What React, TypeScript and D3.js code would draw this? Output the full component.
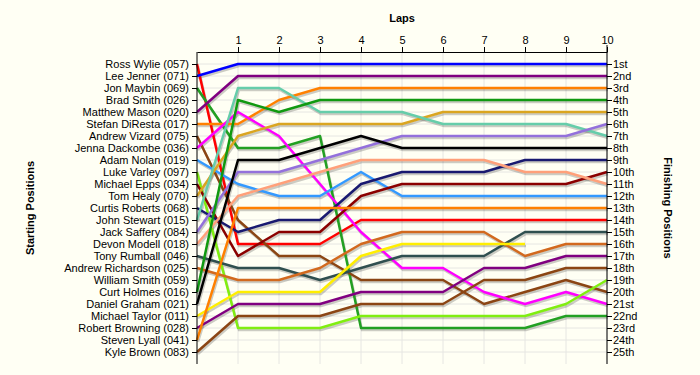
import React, { useEffect, useRef } from 'react';
import * as d3 from 'd3';

// laps and labels
const laps = [0, 1, 2, 3, 4, 5, 6, 7, 8, 9, 10];
const startLabels = [
  'Ross Wylie (057)', 'Lee Jenner (071)', 'Jon Maybin (069)', 'Brad Smith (026)',
  'Matthew Mason (020)', 'Stefan DiResta (017)', 'Andrew Vizard (075)', 'Jenna Dackombe (036)',
  'Adam Nolan (019)', 'Luke Varley (097)', 'Michael Epps (034)', 'Tom Healy (070)',
  'Curtis Roberts (068)', 'John Stewart (015)', 'Jack Saffery (084)', 'Devon Modell (018)',
  'Tony Rumball (046)', 'Andrew Richardson (025)', 'William Smith (059)', 'Curt Holmes (016)',
  'Daniel Graham (021)', 'Michael Taylor (011)', 'Robert Browning (028)', 'Steven Lyall (041)',
  'Kyle Brown (083)',
];
const finishLabels = [
  '1st', '2nd', '3rd', '4th', '5th', '6th', '7th', '8th', '9th', '10th', '11th', '12th', '13th',
  '14th', '15th', '16th', '17th', '18th', '19th', '20th', '21st', '22nd', '23rd', '24th', '25th',
];

// position of each driver at lap 0..10
const rossWylie = [1, 16, 16, 16, 14, 14, 14, 14, 14, 14, 14];
const leeJenner = [2, 1, 1, 1, 1, 1, 1, 1, 1, 1, 1];
const jonMaybin = [3, 8, 8, 7, 23, 23, 23, 23, 23, 22, 22];
const matthewMason = [5, 2, 2, 2, 2, 2, 2, 2, 2, 2, 2];
const stefanDiResta = [6, 6, 4, 3, 3, 3, 3, 3, 3, 3, 3];
const andrewVizard = [7, 14, 17, 17, 19, 19, 19, 21, 20, 19, 20];
const jennaDackombe = [8, 5, 7, 11, 15, 18, 18, 20, 21, 20, 21];
const adamNolan = [9, 11, 12, 12, 10, 12, 12, 12, 12, 12, 12];
const lukeVarley = [10, 23, 23, 23, 22, 22, 22, 22, 22, 21, 19];
const michaelEpps = [11, 17, 15, 15, 12, 11, 11, 11, 11, 11, 10];
const tomHealy = [12, 7, 6, 6, 6, 6, 5, 5, 5, 5, 5];
const curtisRoberts = [13, 15, 14, 14, 11, 10, 10, 10, 9, 9, 9];
const johnStewart = [14, 3, 3, 5, 5, 5, 6, 6, 6, 6, 7];
const jackSaffery = [15, 10, 10, 9, 8, 7, 7, 7, 7, 7, 6];
const devonModell = [16, 12, 11, 10, 9, 9, 9, 9, 10, 10, 11];
const tonyRumball = [17, 18, 18, 19, 18, 17, 17, 17, 15, 15, 15];
const andrewRichardson = [18, 19, 19, 18, 16, 15, 15, 15, 17, 16, 16];
const curtHolmes = [20, 4, 5, 4, 4, 4, 4, 4, 4, 4, 4];
const danielGraham = [21, 9, 9, 8, 7, 8, 8, 8, 8, 8, 8];
const michaelTaylor = [22, 20, 20, 20, 17, 16, 16, 16, 16];
const robertBrowning = [23, 21, 21, 21, 20, 20, 20, 18, 18, 17, 17];
const stevenLyall = [24, 13, 13, 13, 13, 13, 13, 13, 13, 13, 13];
const kyleBrown = [25, 22, 22, 22, 21, 21, 21, 19, 19, 18, 18];

const series = [
  { pos: rossWylie, color: '#ff0000' },
  { pos: leeJenner, color: '#0000ff' },
  { pos: jonMaybin, color: '#22a022' },
  { pos: matthewMason, color: '#800080' },
  { pos: stefanDiResta, color: '#ff8000' },
  { pos: andrewVizard, color: '#8b4513' },
  { pos: jennaDackombe, color: '#ff00ff' },
  { pos: adamNolan, color: '#3399ff' },
  { pos: lukeVarley, color: '#80ee10' },
  { pos: michaelEpps, color: '#8b0000' },
  { pos: tomHealy, color: '#daa520' },
  { pos: curtisRoberts, color: '#191970' },
  { pos: johnStewart, color: '#66cdaa' },
  { pos: jackSaffery, color: '#9370db' },
  { pos: devonModell, color: '#ffa07a' },
  { pos: tonyRumball, color: '#2f4f4f' },
  { pos: andrewRichardson, color: '#d2691e' },
  { pos: curtHolmes, color: '#109910' },
  { pos: danielGraham, color: '#000000' },
  { pos: michaelTaylor, color: '#ffee00' },
  { pos: robertBrowning, color: '#800080' },
  { pos: stevenLyall, color: '#ff8000' },
  { pos: kyleBrown, color: '#8b4513' },
];

const W = 700;
const H = 375;
const FONT = 'Liberation Sans, Arial, sans-serif';

export default function App() {
  const svgRef = useRef<SVGSVGElement>(null);

  useEffect(() => {
    const svg = d3.select(svgRef.current);
    svg.selectAll('*').remove();

    const x = d3.scaleLinear().domain([0, 10]).range([197, 607]);
    const y = d3.scaleLinear().domain([1, 25]).range([64, 352]);
    const top = 52;
    const bottom = 364;

    // grid
    const grid = svg.append('g');
    grid.selectAll('.hg')
      .data(d3.range(1, 26))
      .join('line')
      .attr('x1', x(0)).attr('x2', x(10))
      .attr('y1', d => y(d)).attr('y2', d => y(d))
      .attr('stroke', '#e6e6e2').attr('stroke-width', 1);
    grid.selectAll('.vg')
      .data(laps.slice(1))
      .join('line')
      .attr('x1', d => x(d)).attr('x2', d => x(d))
      .attr('y1', top).attr('y2', bottom)
      .attr('stroke', '#e6e6e2').attr('stroke-width', 1);

    // lines
    const line = d3.line<number>()
      .x((d, i) => x(laps[i]))
      .y(d => y(d));

    const shadows = svg.append('g').attr('transform', 'translate(1,2)');
    shadows.selectAll('path')
      .data(series)
      .join('path')
      .attr('d', d => line(d.pos))
      .attr('fill', 'none')
      .attr('stroke', '#000')
      .attr('stroke-opacity', 0.2)
      .attr('stroke-width', 2.5);

    svg.append('g').selectAll('path')
      .data(series)
      .join('path')
      .attr('d', d => line(d.pos))
      .attr('fill', 'none')
      .attr('stroke', d => d.color)
      .attr('stroke-width', 2.5)
      .attr('stroke-linejoin', 'round');

    // top axis
    const xAxis = d3.axisTop(x)
      .tickValues(laps.slice(1))
      .tickSize(5)
      .tickSizeOuter(0)
      .tickFormat(d => String(d));
    const gx = svg.append('g').attr('transform', `translate(0,${top})`).call(xAxis);
    gx.select('.domain').attr('stroke', '#000');
    gx.selectAll('text').attr('font-family', FONT).attr('font-size', 11).attr('fill', '#000');

    // left axis
    const yLeft = d3.axisLeft(y)
      .tickValues(d3.range(1, 26))
      .tickSize(5)
      .tickSizeOuter(0)
      .tickPadding(3)
      .tickFormat(d => startLabels[+d - 1]);
    const gl = svg.append('g').attr('transform', 'translate(197,0)').call(yLeft);
    gl.select('.domain').attr('d', `M0,${top}V${bottom}`).attr('stroke', '#000');
    gl.selectAll('text').attr('font-family', FONT).attr('font-size', 11).attr('fill', '#000');

    // right axis
    const yRight = d3.axisRight(y)
      .tickValues(d3.range(1, 26))
      .tickSize(5)
      .tickSizeOuter(0)
      .tickPadding(1)
      .tickFormat(d => finishLabels[+d - 1]);
    const gr = svg.append('g').attr('transform', 'translate(607,0)').call(yRight);
    gr.select('.domain').attr('d', `M0,${top - 7}V${bottom}`).attr('stroke', '#000');
    gr.selectAll('text').attr('font-family', FONT).attr('font-size', 11).attr('fill', '#000');

    // titles
    svg.append('text')
      .attr('x', 402).attr('y', 22)
      .attr('text-anchor', 'middle')
      .attr('font-family', FONT).attr('font-size', 11).attr('font-weight', 'bold')
      .text('Laps');
    svg.append('text')
      .attr('transform', 'translate(34,208) rotate(-90)')
      .attr('text-anchor', 'middle')
      .attr('font-family', FONT).attr('font-size', 11).attr('font-weight', 'bold')
      .text('Starting Positions');
    svg.append('text')
      .attr('transform', 'translate(664,208) rotate(90)')
      .attr('text-anchor', 'middle')
      .attr('font-family', FONT).attr('font-size', 11).attr('font-weight', 'bold')
      .text('Finishing Positions');
  }, []);

  return (
    <div style={{ position: 'fixed', left: 0, top: 0, width: W, height: H, background: '#fffff4' }}>
      <svg ref={svgRef} width={W} height={H} />
    </div>
  );
}
